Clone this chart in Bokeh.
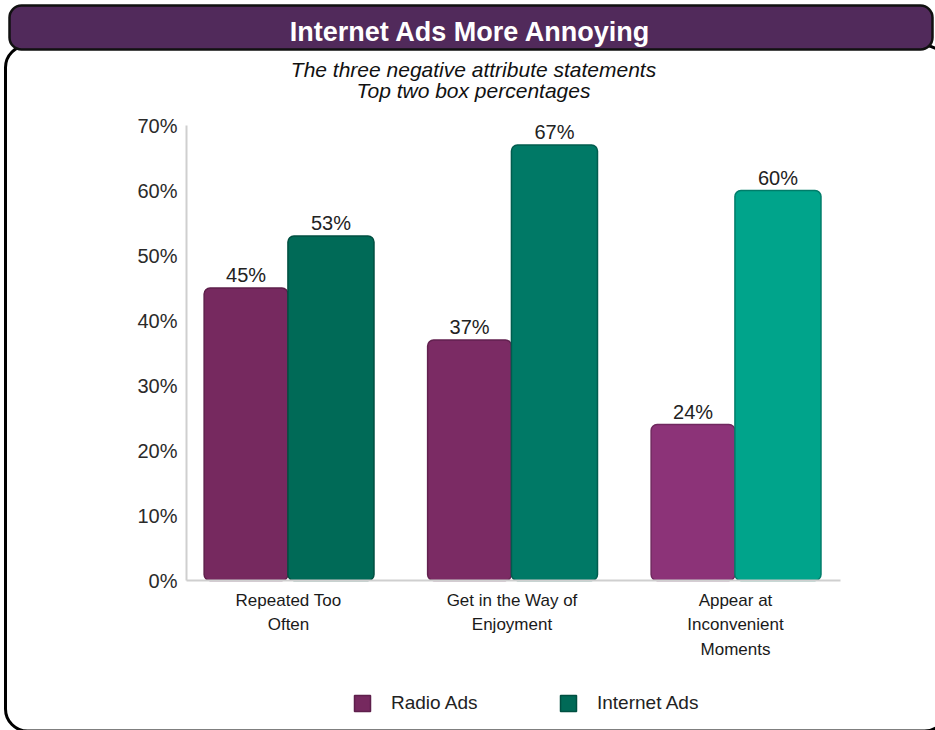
from bokeh.plotting import figure
from bokeh.models import (ColumnDataSource, FixedTicker, PrintfTickFormatter, BoxAnnotation,
                          Label, LabelSet, Legend, LegendItem, Range1d)
from bokeh.transform import dodge
from bokeh.core.properties import value
from bokeh.embed import file_html
from bokeh.resources import INLINE

# ---------------- data ----------------
categories = ["Repeated Too\nOften", "Get in the Way of\nEnjoyment", "Appear at\nInconvenient\nMoments"]
series_names = ["Radio Ads", "Internet Ads"]
radio_values = [45, 37, 24]
internet_values = [53, 67, 60]
y_ticks = [0, 10, 20, 30, 40, 50, 60, 70]
title_text = "Internet Ads More Annoying"
subtitle_lines = ["The three negative attribute statements", "Top two box percentages"]

# ---------------- styles ----------------
radio_colors = ["#76295f", "#7b2b64", "#8c3378"]
radio_edges = ["#5e1f4b", "#62214f", "#70285f"]
internet_colors = ["#006a57", "#007966", "#00a48b"]
internet_edges = ["#004f41", "#005c4e", "#007d6a"]
FONT = "Liberation Sans"

W, H = 935, 730
# plot-area geometry in canvas pixels
X0_PX, STEP_PX = 288.0, 223.5       # centre of first category, spacing between categories
Y0_PX, PX_PER_UNIT = 580.0, 6.5     # baseline (0 %) and pixels per percent
AX_LEFT_PX, AX_RIGHT_PX = 186.0, 840.0


def dx(cx):
    return (cx - X0_PX) / STEP_PX


def dy(cy):
    return (Y0_PX - cy) / PX_PER_UNIT


p = figure(width=W, height=H, output_backend="svg", toolbar_location=None,
           x_range=Range1d(dx(0), dx(W)), y_range=Range1d(dy(H), dy(0)),
           min_border=0, min_border_left=0, min_border_right=0,
           min_border_top=0, min_border_bottom=0)
p.outline_line_color = None
p.xgrid.grid_line_color = None
p.ygrid.grid_line_color = None
p.background_fill_color = "white"
p.border_fill_color = "white"

xs = list(range(len(categories)))
src = ColumnDataSource(dict(
    x=xs,
    radio=radio_values, internet=internet_values,
    radio_color=radio_colors, internet_color=internet_colors,
    radio_edge=radio_edges, internet_edge=internet_edges,
    radio_label=[f"{v}%" for v in radio_values],
    internet_label=[f"{v}%" for v in internet_values],
))

# ---------------- frame decorations (screen units, frame == whole canvas) ----------------
def sx(cx):
    return cx


def sy(cy):
    return H - cy


outline = BoxAnnotation(left=sx(5), right=sx(946), top=sy(45), bottom=sy(730.5),
                        left_units="screen", right_units="screen",
                        top_units="screen", bottom_units="screen",
                        fill_color=None, fill_alpha=0, line_color="black", line_alpha=1,
                        line_width=3, border_radius=22, level="underlay")
p.add_layout(outline)

r_radio = p.vbar(x=dodge("x", -0.19, range=p.x_range), top="radio", bottom=0, width=0.375,
                 fill_color="radio_color", line_color="radio_edge", line_width=1.5,
                 border_radius=6, source=src)
r_net = p.vbar(x=dodge("x", 0.19, range=p.x_range), top="internet", bottom=0, width=0.385,
               fill_color="internet_color", line_color="internet_edge", line_width=1.5,
               border_radius=6, source=src)

for key, off in (("radio", -0.19), ("internet", 0.19)):
    p.add_layout(LabelSet(x=dodge("x", off, range=p.x_range), y=key, text=f"{key}_label",
                          source=src, text_align="center", text_baseline="alphabetic",
                          y_offset=6, text_font=value(FONT), text_font_size="20px",
                          text_color="#222222"))

# ---------------- axes (fixed inside the canvas) ----------------
ya = p.yaxis[0]
ya.fixed_location = dx(AX_LEFT_PX)
ya.bounds = (y_ticks[0], y_ticks[-1])
ya.ticker = FixedTicker(ticks=y_ticks)
ya.formatter = PrintfTickFormatter(format="%d%%")
ya.major_tick_line_color = None
ya.minor_tick_line_color = None
ya.major_tick_out = 0
ya.major_tick_in = 0
ya.axis_line_color = "#cfcfcf"
ya.axis_line_width = 2
ya.major_label_standoff = 9
ya.major_label_text_font = FONT
ya.major_label_text_font_size = "20px"
ya.major_label_text_color = "#2a2a2a"

xa = p.xaxis[0]
xa.fixed_location = 0
xa.bounds = (dx(AX_LEFT_PX), dx(AX_RIGHT_PX))
xa.ticker = FixedTicker(ticks=xs)
xa.major_label_overrides = {i: c for i, c in zip(xs, categories)}
xa.major_tick_line_color = None
xa.minor_tick_line_color = None
xa.major_tick_out = 0
xa.major_tick_in = 0
xa.axis_line_color = "#cfcfcf"
xa.axis_line_width = 2
xa.major_label_standoff = 10
xa.major_label_text_font = FONT
xa.major_label_text_font_size = "17px"
xa.major_label_text_line_height = 1.3
xa.major_label_text_color = "#1a1a1a"

# ---------------- title bar + titles ----------------
title_bar = BoxAnnotation(left=sx(9), right=sx(932), top=sy(5), bottom=sy(49),
                          left_units="screen", right_units="screen",
                          top_units="screen", bottom_units="screen",
                          fill_color="#512a5b", fill_alpha=1, line_color="#111111",
                          line_alpha=1, line_width=2.5, border_radius=12)
p.add_layout(title_bar)

p.add_layout(Label(x=sx(470), y=sy(31), x_units="screen", y_units="screen", text=title_text,
                   text_align="center", text_baseline="alphabetic", text_font=FONT,
                   text_font_size="27px", text_font_style="bold", text_color="white"))
for line, base in zip(subtitle_lines, (69, 90)):
    p.add_layout(Label(x=sx(473), y=sy(base), x_units="screen", y_units="screen", text=line,
                       text_align="center", text_baseline="alphabetic", text_font=FONT,
                       text_font_size="21px", text_font_style="italic", text_color="#111111"))

# ---------------- legends (one item each) ----------------
for name, rend, gx in ((series_names[0], r_radio, 352), (series_names[1], r_net, 558)):
    lg = Legend(items=[LegendItem(label=name, renderers=[rend], index=0)],
                location=(sx(gx), sy(714)), orientation="horizontal",
                glyph_width=20, glyph_height=20, label_standoff=19, padding=0, margin=0,
                spacing=0, border_line_color=None, background_fill_alpha=0,
                label_text_font=FONT, label_text_font_size="19px",
                label_text_color="#222222")
    p.add_layout(lg)

open("out.html", "w").write(file_html(p, INLINE))
